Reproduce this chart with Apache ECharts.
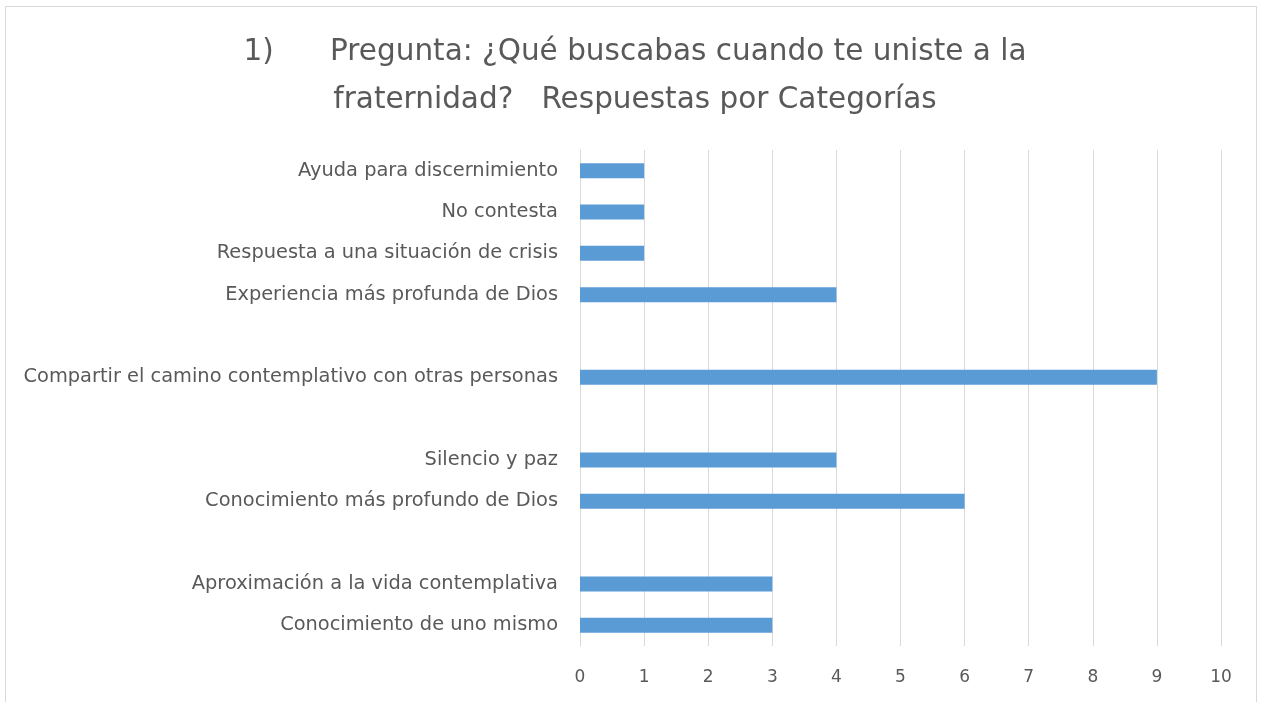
<!DOCTYPE html>
<html>
<head>
<meta charset="utf-8">
<script src="https://cdn.jsdelivr.net/npm/echarts@6/dist/echarts.min.js"></script>
<style>
  html, body { margin: 0; padding: 0; background: #fff; }
  #chart { width: 1263px; height: 702px; }
  #frame { position: absolute; left: 5px; top: 6px; width: 1252px; height: 700px; border: 1px solid #d9d9d9; box-sizing: border-box; pointer-events: none; }
</style>
</head>
<body>
<div id="chart"></div>
<div id="frame"></div>
<script>
// categories bottom to top, blank entries are the gaps in the original
const categories = [
  'Conocimiento de uno mismo',
  'Aproximación a la vida contemplativa',
  ' ',
  'Conocimiento más profundo de Dios',
  'Silencio y paz',
  '  ',
  'Compartir el camino contemplativo con otras personas',
  '   ',
  'Experiencia más profunda de Dios',
  'Respuesta a una situación de crisis',
  'No contesta',
  'Ayuda para discernimiento'
];
const values = [3, 3, null, 6, 4, null, 9, null, 4, 1, 1, 1];
const xTicks = [0, 1, 2, 3, 4, 5, 6, 7, 8, 9, 10];

const dom = document.getElementById('chart');
const myChart = echarts.init(dom);

const font = '"DejaVu Sans", sans-serif';

const option = {
  animation: false,
  title: {
    text: '1)      Pregunta: ¿Qué buscabas cuando te uniste a la\nfraternidad?   Respuestas por Categorías',
    left: 630,
    top: 23,
    textAlign: 'center',
    textStyle: {
      fontFamily: font,
      fontSize: 29.5,
      fontWeight: 'normal',
      color: '#595959',
      lineHeight: 48
    }
  },
  grid: {
    left: 580,
    right: 42,
    top: 150,
    bottom: 56
  },
  xAxis: {
    type: 'value',
    min: 0,
    max: 10,
    interval: 1,
    axisLine: { show: false },
    axisTick: { show: false },
    splitLine: { lineStyle: { color: '#d9d9d9', width: 1 } },
    axisLabel: {
      margin: 23,
      fontFamily: font,
      fontSize: 17,
      color: '#595959',
      formatter: v => xTicks.includes(v) ? String(v) : ''
    }
  },
  yAxis: {
    type: 'category',
    data: categories,
    axisLine: { show: true, lineStyle: { color: '#d9d9d9' } },
    axisTick: { show: false },
    axisLabel: {
      margin: 22,
      fontFamily: font,
      fontSize: 19.4,
      color: '#595959'
    }
  },
  series: [
    {
      type: 'bar',
      data: values,
      barWidth: 15,
      itemStyle: { color: '#5b9bd5' }
    }
  ]
};

option && myChart.setOption(option);
</script>
</body>
</html>
